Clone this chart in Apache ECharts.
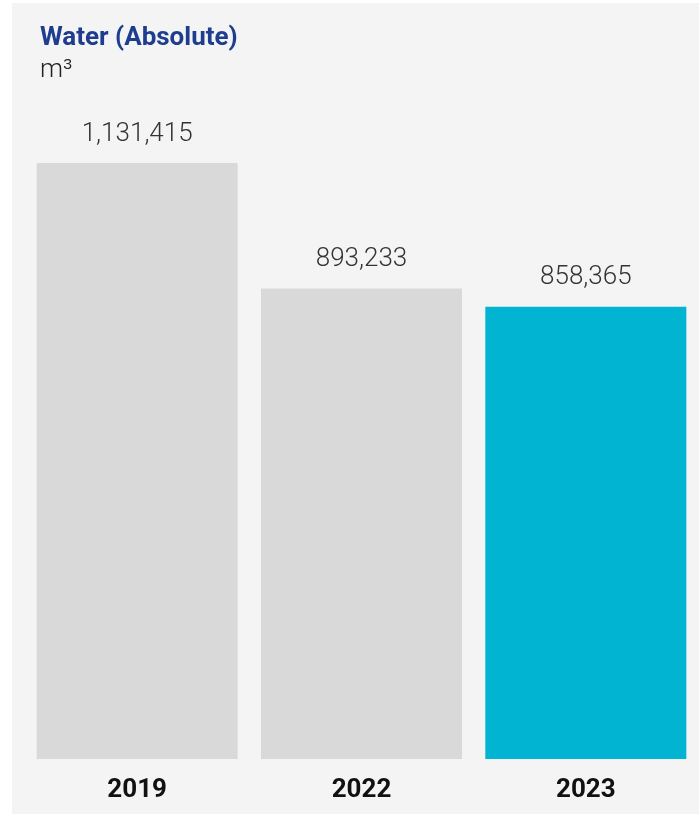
<!DOCTYPE html>
<html style="height: 100%;">
  <head>
    <meta charset="utf-8" />
    <script src="https://cdn.jsdelivr.net/npm/echarts@6/dist/echarts.min.js"></script>
  </head>
  <body style="height: 100%; margin: 0; background: #ffffff;">
    <div id="container" style="width: 699px; height: 814px;"></div>
    <script type="text/javascript">
      var years = ["2019", "2022", "2023"];
      var water = [1131415, 893233, 858365];
      var barColors = ["#d9d9d9", "#d9d9d9", "#00b4d2"];

      var myChart = echarts.init(document.getElementById("container"));
      var font = "Roboto, 'Noto Sans', sans-serif";

      var option = {
        backgroundColor: "#ffffff",
        graphic: [
          {
            type: "rect",
            z: -10,
            shape: { x: 12, y: 3, width: 687, height: 811 },
            style: { fill: "#f4f4f4" },
          },
        ],
        title: {
          text: "Water (Absolute)",
          subtext: "m³",
          left: 35,
          top: 20,
          itemGap: 6,
          textStyle: {
            fontFamily: font,
            fontSize: 26,
            fontWeight: "bold",
            color: "#1e3d8f",
          },
          subtextStyle: {
            fontFamily: font,
            fontSize: 26,
            fontWeight: 300,
            color: "#222222",
          },
        },
        grid: {
          left: 25,
          right: 1,
          top: 163,
          bottom: 55,
        },
        xAxis: {
          type: "category",
          data: years,
          axisLine: { show: false },
          axisTick: { show: false },
          axisLabel: {
            margin: 18,
            fontFamily: font,
            fontSize: 26,
            fontWeight: "bold",
            color: "#111111",
          },
        },
        yAxis: {
          type: "value",
          min: 0,
          max: function (v) {
            return v.max;
          },
          show: false,
          splitLine: { show: false },
        },
        series: [
          {
            type: "bar",
            barWidth: 201,
            data: water.map(function (v, i) {
              return { value: v, itemStyle: { color: barColors[i] } };
            }),
            label: {
              show: true,
              position: "top",
              distance: 16,
              fontFamily: font,
              fontSize: 26,
              fontWeight: 300,
              color: "#333333",
              formatter: function (p) {
                return p.value.toLocaleString("en-US");
              },
            },
          },
        ],
      };
      myChart.setOption(option);
    </script>
  </body>
</html>
